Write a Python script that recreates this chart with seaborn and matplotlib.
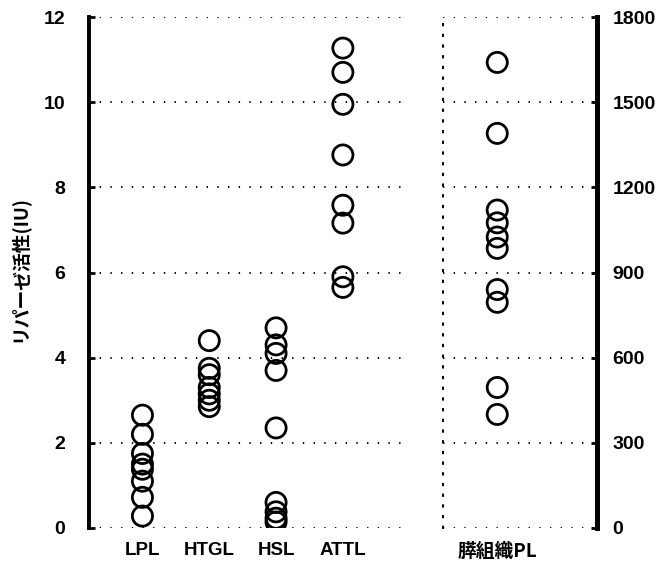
import matplotlib
matplotlib.use("Agg")
import matplotlib.pyplot as plt
import pandas as pd
import seaborn as sns

# Lipase activity per enzyme (IU)
enzymes = ["LPL", "HTGL", "HSL", "ATTL"]
lpl = [2.65, 2.2, 1.75, 1.5, 1.38, 1.1, 0.72, 0.28]
htgl = [4.4, 3.75, 3.6, 3.3, 3.15, 3.0, 2.85]
hsl = [4.7, 4.3, 4.1, 3.7, 2.35, 0.6, 0.38, 0.23, 0.14]
attl = [11.27, 10.7, 9.95, 8.76, 7.58, 7.16, 5.9, 5.65]

# Pancreatic tissue lipase (right scale)
pancreas_label = "膵組織PL"
pancreas = [1640, 1390, 1120, 1075, 1025, 985, 840, 795, 495, 400]

left_ticks = [0, 2, 4, 6, 8, 10, 12]
right_ticks = [0, 300, 600, 900, 1200, 1500, 1800]
ylabel = "リパーゼ活性(IU)"

sns.set_theme(style="white")
plt.rcParams["font.family"] = ["Liberation Sans", "Noto Sans CJK JP"]
plt.rcParams["font.weight"] = "bold"

left_df = pd.DataFrame({
    "enzyme": sum([[e] * len(v) for e, v in zip(enzymes, [lpl, htgl, hsl, attl])], []),
    "activity": lpl + htgl + hsl + attl,
})
right_df = pd.DataFrame({"enzyme": [pancreas_label] * len(pancreas), "activity": pancreas})

W, H = 663, 581
fig = plt.figure(figsize=(W / 100, H / 100), dpi=100)
bottom, top = 528, 17
axL = fig.add_axes([89 / W, (H - bottom) / H, (403 - 89) / W, (bottom - top) / H])
axR = fig.add_axes([443 / W, (H - bottom) / H, (597 - 443) / W, (bottom - top) / H])

marker_kw = dict(jitter=False, size=14.5, color="white", edgecolor="black", linewidth=2.0, zorder=3)
sns.stripplot(data=left_df, x="enzyme", y="activity", order=enzymes, ax=axL, **marker_kw)
sns.stripplot(data=right_df, x="enzyme", y="activity", ax=axR, **marker_kw)
for ax in (axL, axR):
    for coll in ax.collections:
        coll.set_facecolor("none")

dot = (0, (0.7, 4.8))
grid_kw = dict(color="black", linewidth=1.4, linestyle=dot, zorder=1)

# Left panel
axL.set_xlim(-0.8, 3.9)
axL.set_ylim(0, 12)
axL.set_yticks(left_ticks)
for y in left_ticks:
    axL.axhline(y, **grid_kw)
for side in ("top", "right", "bottom"):
    axL.spines[side].set_visible(False)
axL.spines["left"].set_linewidth(2.8)
axL.spines["left"].set_color("black")
axL.tick_params(axis="y", direction="in", length=4, width=2, color="black",
                labelsize=14, pad=17, left=True)
axL.tick_params(axis="x", length=0, labelsize=13.5, pad=10)
axL.set_xlabel("")
axL.set_ylabel("")

# Right panel
axR.set_xlim(-0.81, 1.49)
axR.set_ylim(0, 1800)
axR.set_yticks(right_ticks)
for y in right_ticks:
    axR.axhline(y, **grid_kw)
for side in ("top", "bottom"):
    axR.spines[side].set_visible(False)
axR.spines["left"].set_linestyle(dot)
axR.spines["left"].set_linewidth(1.4)
axR.spines["left"].set_color("black")
axR.spines["right"].set_linewidth(3.6)
axR.spines["right"].set_color("black")
axR.yaxis.tick_right()
axR.tick_params(axis="y", direction="in", length=4, width=2, color="black",
                labelsize=14, pad=11, right=True, left=False)
axR.tick_params(axis="x", length=0, labelsize=13.5, pad=10)
axR.set_xlabel("")
axR.set_ylabel("")

for ax in (axL, axR):
    for lab in ax.get_xticklabels() + ax.get_yticklabels():
        lab.set_fontweight("bold")
        lab.set_color("black")
for lab in axR.get_xticklabels():
    lab.set_fontfamily(["Noto Sans CJK JP"])

fig.text(18 / W, 1 - 268 / H, ylabel, rotation=90, ha="center", va="center",
         fontsize=13.5, fontweight="bold", family=["Noto Sans CJK JP"], color="black")

fig.savefig("out.png", dpi=100, facecolor="white")
